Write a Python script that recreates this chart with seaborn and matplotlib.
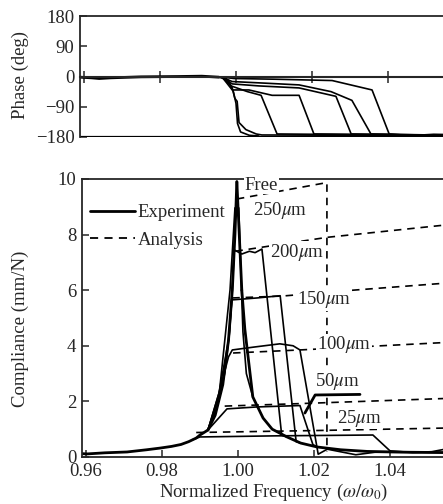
import matplotlib
matplotlib.use("Agg")
import matplotlib.pyplot as plt
from matplotlib.lines import Line2D
import seaborn as sns

# ---- phase curves (deg) ----
phase_base_x = [0.9589, 0.962, 0.964, 0.967, 0.975, 0.985, 0.991, 0.9955]
phase_base_y = [-2, -4, -6, -4, -1, 0, 1, -2]

ph_free_x = [0.9955, 0.9974, 0.9990, 0.9997, 1.0003, 1.0008, 1.0026, 1.0053, 1.0068, 1.062]
ph_free_y = [-2, -6, -34, -65, -74, -137, -158, -171, -174, -176]
ph_250_x = [0.9960, 0.9980, 0.9993, 1.0000, 1.0004, 1.0012, 1.0035, 1.0060]
ph_250_y = [-3, -12, -45, -80, -140, -165, -175, -177]
ph_200_x = [0.9965, 0.9987, 1.0030, 1.0066, 1.0108, 1.062]
ph_200_y = [-4, -28, -45, -56, -171, -176]
ph_150_x = [0.9965, 0.9990, 1.0034, 1.0095, 1.0166, 1.0205, 1.062]
ph_150_y = [-4, -40, -40, -56, -56, -171, -176]
ph_100_x = [0.9965, 0.9990, 1.0060, 1.0166, 1.0263, 1.0303, 1.062]
ph_100_y = [-3, -22, -28, -34, -59, -171, -176]
ph_50_x = [0.9965, 0.9990, 1.0080, 1.0166, 1.0250, 1.0305, 1.0355, 1.062]
ph_50_y = [-3, -15, -20, -25, -45, -71, -171, -176]
ph_25_x = [0.9965, 0.9995, 1.0100, 1.0253, 1.0358, 1.0403, 1.046, 1.052, 1.062]
ph_25_y = [-2, -6, -8, -12, -40, -171, -176, -172, -174]

# ---- compliance, experiment (mm/N) ----
rise_x = [0.9589, 0.9603, 0.965, 0.9708, 0.976, 0.9795, 0.9825, 0.985, 0.987, 0.989, 0.990, 0.9921]
rise_y = [0.12, 0.11, 0.15, 0.18, 0.26, 0.32, 0.38, 0.45, 0.55, 0.68, 0.79, 0.97]
decay_x = [1.0010, 1.0018, 1.0024, 1.0039, 1.0066, 1.0090, 1.0129, 1.0165, 1.0208, 1.0270, 1.0340, 1.0450, 1.0620]
decay_y = [6.0, 4.6, 3.9, 2.16, 1.4, 1.0, 0.72, 0.5, 0.36, 0.26, 0.2, 0.17, 0.15]

exp_free_x = [0.9921, 0.9940, 0.9960, 0.9975, 0.9985, 0.9992, 0.9997]
exp_free_y = [0.97, 1.5, 2.6, 4.2, 6.0, 8.0, 9.9]
exp_250_x = [0.9921, 0.9950, 0.9979, 0.9992, 1.0002, 1.0008, 1.0013, 1.0022, 1.0039]
exp_250_y = [0.97, 2.2, 6.0, 8.96, 8.96, 6.5, 4.5, 3.0, 2.16]
exp_200_x = [0.9921, 0.9945, 0.9965, 0.9978, 0.9985, 0.9990, 1.0010, 1.0030, 1.0045, 1.0063, 1.0115, 1.0129]
exp_200_y = [0.97, 1.8, 3.0, 4.5, 6.0, 7.45, 7.3, 7.4, 7.35, 7.48, 0.78, 0.72]
exp_150_x = [0.9921, 0.9950, 0.9975, 0.9984, 1.0050, 1.0111, 1.0153, 1.0165]
exp_150_y = [0.97, 2.3, 4.2, 5.65, 5.72, 5.8, 0.55, 0.5]
exp_100_x = [0.9921, 0.9950, 0.9975, 0.9985, 1.0040, 1.0110, 1.0145, 1.0163, 1.0211, 1.0235, 1.0310, 1.0360, 1.0450, 1.0620]
exp_100_y = [0.97, 2.3, 3.6, 3.85, 3.95, 4.07, 4.0, 3.85, 0.1, 0.28, 0.08, 0.17, 0.17, 0.15]
exp_50_x = [0.9921, 0.9971, 1.0050, 1.0163, 1.0197, 1.0208]
exp_50_y = [0.97, 1.73, 1.8, 1.85, 0.45, 0.36]
exp_25_x = [0.9880, 0.9900, 1.0100, 1.0355, 1.0400, 1.0460, 1.0510, 1.0560]
exp_25_y = [0.62, 0.72, 0.76, 0.79, 0.22, 0.16, 0.19, 0.32]
lead_50_x = [1.0176, 1.0203, 1.0321]
lead_50_y = [1.58, 2.23, 2.25]

# ---- compliance, analysis ----
ana_free_x = [0.9997, 1.0234, 1.0234]
ana_free_y = [9.28, 9.87, 0.2]
ana_250_x = [0.9993, 1.0234, 1.0620]
ana_250_y = [7.4, 7.9, 8.45]
ana_150_x = [0.9985, 1.0118, 1.0303, 1.0620]
ana_150_y = [5.72, 5.79, 6.0, 6.33]
ana_100_x = [0.9987, 1.0163, 1.0620]
ana_100_y = [3.74, 3.85, 4.17]
ana_50_x = [0.9965, 1.0163, 1.0620]
ana_50_y = [1.83, 1.92, 2.14]
ana_25_x = [0.9890, 1.0200, 1.0620]
ana_25_y = [0.88, 0.95, 1.06]

gap_labels = ["Free", "250$\\mu$m", "200$\\mu$m", "150$\\mu$m", "100$\\mu$m", "50$\\mu$m", "25$\\mu$m"]
label_x = [1.0018, 1.0039, 1.0084, 1.0155, 1.0208, 1.0203, 1.0260]
label_y = [9.78, 8.88, 7.37, 5.65, 4.03, 2.7, 1.4]

sns.set_theme(style="ticks")
plt.rcParams["font.family"] = ["Liberation Serif", "DejaVu Serif"]
plt.rcParams["mathtext.fontset"] = "stix"
plt.rcParams["font.size"] = 13.5
plt.rcParams["axes.linewidth"] = 1.3

XLIM = (0.95895, 1.062)
fig = plt.figure(figsize=(4.43, 5.04), dpi=100)
ax_p = fig.add_axes([0.1806, 0.7282, 0.884, 0.240])
ax_c = fig.add_axes([0.1851, 0.0933, 0.884, 0.5516])

def line(ax, xs, ys, lw=1.1, ls="-"):
    sns.lineplot(x=xs, y=ys, ax=ax, sort=False, estimator=None, color="black",
                 linewidth=lw, linestyle=ls)

# phase panel
line(ax_p, phase_base_x, phase_base_y, lw=2.0)
for xs, ys in [(ph_free_x, ph_free_y), (ph_250_x, ph_250_y), (ph_200_x, ph_200_y),
               (ph_150_x, ph_150_y), (ph_100_x, ph_100_y), (ph_50_x, ph_50_y),
               (ph_25_x, ph_25_y)]:
    line(ax_p, xs, ys, lw=1.2)
ax_p.axhline(-180, color="black", lw=1.6)
ax_p.set_xlim(*XLIM)
ax_p.set_ylim(-180, 180)
ax_p.set_yticks([180, 90, 0, -90, -180])
ax_p.set_xticks([0.96, 0.98, 1.00, 1.02, 1.04])
ax_p.spines["bottom"].set_position(("data", 0))
ax_p.spines["bottom"].set_linewidth(1.5)
ax_p.tick_params(axis="x", direction="inout", length=8, width=1.1, labelbottom=False)
ax_p.tick_params(axis="y", direction="in", length=5, width=1.1, pad=4, labelsize=13.5)
ax_p.set_xlabel("")
ax_p.set_ylabel("Phase (deg)", fontsize=13.5)
ax_p.yaxis.set_label_coords(-0.13, 0.51)

# compliance panel
for xs, ys in [(rise_x, rise_y), (exp_free_x, exp_free_y), (decay_x, decay_y)]:
    line(ax_c, xs, ys, lw=2.0)
for xs, ys in [(exp_250_x, exp_250_y), (exp_200_x, exp_200_y), (exp_150_x, exp_150_y),
               (exp_100_x, exp_100_y), (exp_50_x, exp_50_y), (exp_25_x, exp_25_y)]:
    line(ax_c, xs, ys, lw=1.2)
line(ax_c, [exp_free_x[-1], decay_x[0]], [exp_free_y[-1], decay_y[0]], lw=2.0)
line(ax_c, lead_50_x, lead_50_y, lw=2.0)
for xs, ys in [(ana_free_x, ana_free_y), (ana_250_x, ana_250_y), (ana_150_x, ana_150_y),
               (ana_100_x, ana_100_y), (ana_50_x, ana_50_y), (ana_25_x, ana_25_y)]:
    line(ax_c, xs, ys, lw=1.2, ls=(0, (4.5, 3.5)))

for txt, tx, ty in zip(gap_labels, label_x, label_y):
    ax_c.text(tx, ty, txt, fontsize=13.5, ha="left", va="center", zorder=5,
              bbox=dict(facecolor="white", edgecolor="none", pad=0.5))

ax_c.set_xlim(*XLIM)
ax_c.set_ylim(0, 10)
ax_c.set_xticks([0.96, 0.98, 1.00, 1.02, 1.04])
ax_c.set_xticklabels(["0.96", "0.98", "1.00", "1.02", "1.04"])
ax_c.set_yticks([0, 2, 4, 6, 8, 10])
ax_c.tick_params(direction="in", length=5, width=1.1, labelsize=13.5, pad=4)
ax_c.set_xlabel("Normalized Frequency ($\\omega/\\omega_0$)", fontsize=13.5)
ax_c.set_ylabel("Compliance (mm/N)", fontsize=13.5)
ax_c.xaxis.set_label_coords(0.488, -0.088)
ax_c.yaxis.set_label_coords(-0.136, 0.46)

handles = [Line2D([], [], color="black", lw=2.0, ls="-"),
           Line2D([], [], color="black", lw=1.3, ls=(0, (4.5, 3.5)))]
ax_c.legend(handles, ["Experiment", "Analysis"], loc="upper left",
            bbox_to_anchor=(0.02, 0.91), frameon=False, borderpad=0,
            borderaxespad=0, handlelength=2.4, handletextpad=0.15,
            labelspacing=0.55, fontsize=13.5)

fig.savefig("out.png", dpi=100)
